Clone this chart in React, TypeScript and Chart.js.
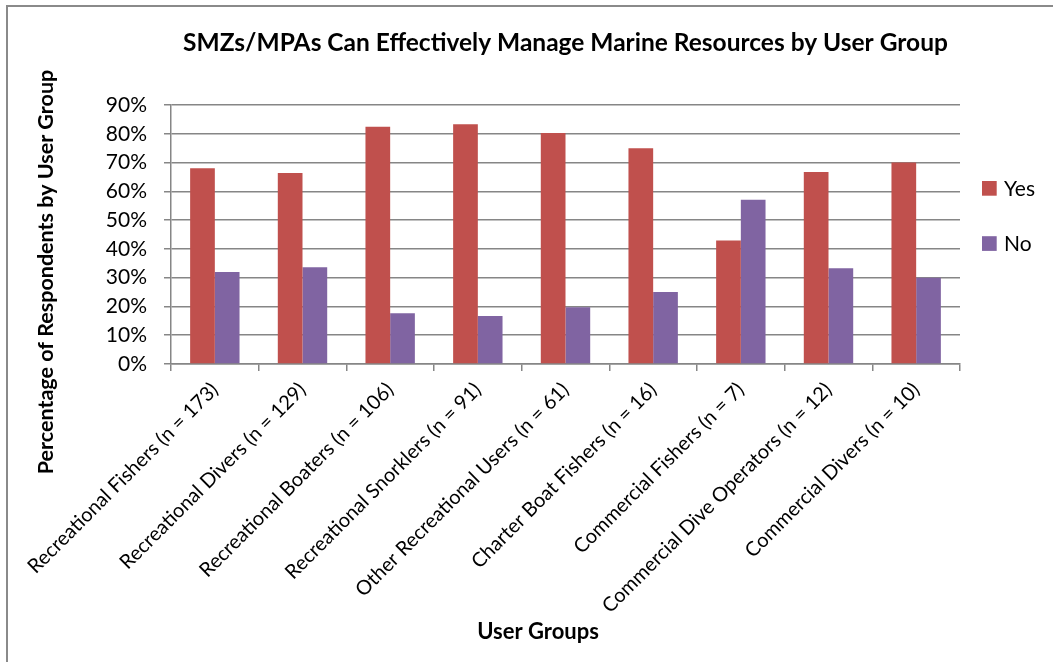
import React, { useEffect, useRef } from "react";
import { Chart, registerables } from "chart.js";

Chart.register(...registerables);

const chartTitle = "SMZs/MPAs Can Effectively Manage Marine Resources by User Group";
const xAxisTitle = "User Groups";
const yAxisTitle = "Percentage of Respondents by User Group";

const categories = [
  "Recreational Fishers (n = 173)",
  "Recreational Divers (n = 129)",
  "Recreational Boaters (n = 106)",
  "Recreational Snorklers (n = 91)",
  "Other Recreational Users (n = 61)",
  "Charter Boat Fishers (n = 16)",
  "Commercial Fishers (n = 7)",
  "Commercial Dive Operators (n = 12)",
  "Commercial Divers (n = 10)",
];

const seriesNames = ["Yes", "No"];
const yesValues = [68, 66.4, 82.4, 83.3, 80.3, 75, 42.9, 66.7, 70];
const noValues = [32, 33.6, 17.6, 16.7, 19.7, 25, 57.1, 33.3, 30];
const seriesColors = ["#C0504D", "#8064A2"];

const yMin = 0;
const yMax = 90;
const yStep = 10;

const FONT = "Lato";
const GRID = "#868686";

const overlayPlugin = {
  id: "overlayText",
  afterDraw(chart: any) {
    const ctx = chart.ctx;
    ctx.save();
    ctx.fillStyle = "#000";
    // y axis title
    ctx.font = `bold 21.5px ${FONT}`;
    ctx.textAlign = "center";
    ctx.textBaseline = "middle";
    ctx.save();
    ctx.translate(46, 272);
    ctx.rotate(-Math.PI / 2);
    ctx.fillText(yAxisTitle, 0, 0);
    ctx.restore();
    // x axis title
    ctx.font = `bold 22px ${FONT}`;
    ctx.fillText(xAxisTitle, 538, 632);
    // legend
    const ys = [188.3, 243.5];
    chart.data.datasets.forEach((ds: any, i: number) => {
      ctx.fillStyle = ds.backgroundColor;
      ctx.fillRect(982, ys[i] - 7.3, 14.7, 14.7);
      ctx.fillStyle = "#000";
      ctx.font = `21px ${FONT}`;
      ctx.textAlign = "left";
      ctx.fillText(ds.label, 1004, ys[i] + 1);
    });
    ctx.restore();
  },
};

export default function App() {
  const ref = useRef<HTMLCanvasElement | null>(null);
  useEffect(() => {
    if (!ref.current) return;
    const chart = new Chart(ref.current, {
      type: "bar",
      data: {
        labels: categories,
        datasets: [
          { label: seriesNames[0], data: yesValues, backgroundColor: seriesColors[0], categoryPercentage: 0.5635, barPercentage: 1 },
          { label: seriesNames[1], data: noValues, backgroundColor: seriesColors[1], categoryPercentage: 0.5635, barPercentage: 1 },
        ],
      },
      options: {
        responsive: false,
        animation: false,
        devicePixelRatio: 1,
        layout: { padding: { left: 0, right: 93, top: 0, bottom: 0 } },
        plugins: {
          legend: { display: false },
          tooltip: { enabled: false },
          title: {
            display: true,
            text: chartTitle,
            fullSize: false,
            color: "#000",
            font: { family: FONT, size: 24.5, weight: "bold" },
            padding: { top: 28.3, bottom: 47.3 },
          },
        },
        scales: {
          x: {
            offset: true,
            grid: { display: true, drawOnChartArea: false, drawTicks: true, tickLength: 7, color: GRID, lineWidth: 1.5, offset: true },
            border: { display: true, color: GRID, width: 1.5 },
            ticks: { autoSkip: false, maxRotation: 45, minRotation: 45, color: "#000", font: { family: FONT, size: 20 }, padding: 7 },
            afterFit: (s: any) => { s.height = 662 - 364; },
          },
          y: {
            min: yMin,
            max: yMax,
            ticks: { stepSize: yStep, color: "#000", font: { family: FONT, size: 21 }, padding: 17, callback: (v: any) => v + "%" },
            grid: { color: GRID, lineWidth: 1.5, tickLength: 7 },
            border: { display: true, color: GRID, width: 1.5 },
            afterFit: (s: any) => { s.width = 171; },
          },
        },
      },
      plugins: [overlayPlugin],
    } as any);
    return () => chart.destroy();
  }, []);

  return (
    <div style={{ position: "fixed", left: 0, top: 0, width: 1053, height: 662, background: "#fff", overflow: "hidden" }}>
      <div style={{ position: "absolute", left: 6, top: 5, width: 1200, height: 800, border: "2px solid #8a8a8a" }} />
      <canvas ref={ref} width={1053} height={662} style={{ position: "absolute", left: 0, top: 0 }} />
    </div>
  );
}
